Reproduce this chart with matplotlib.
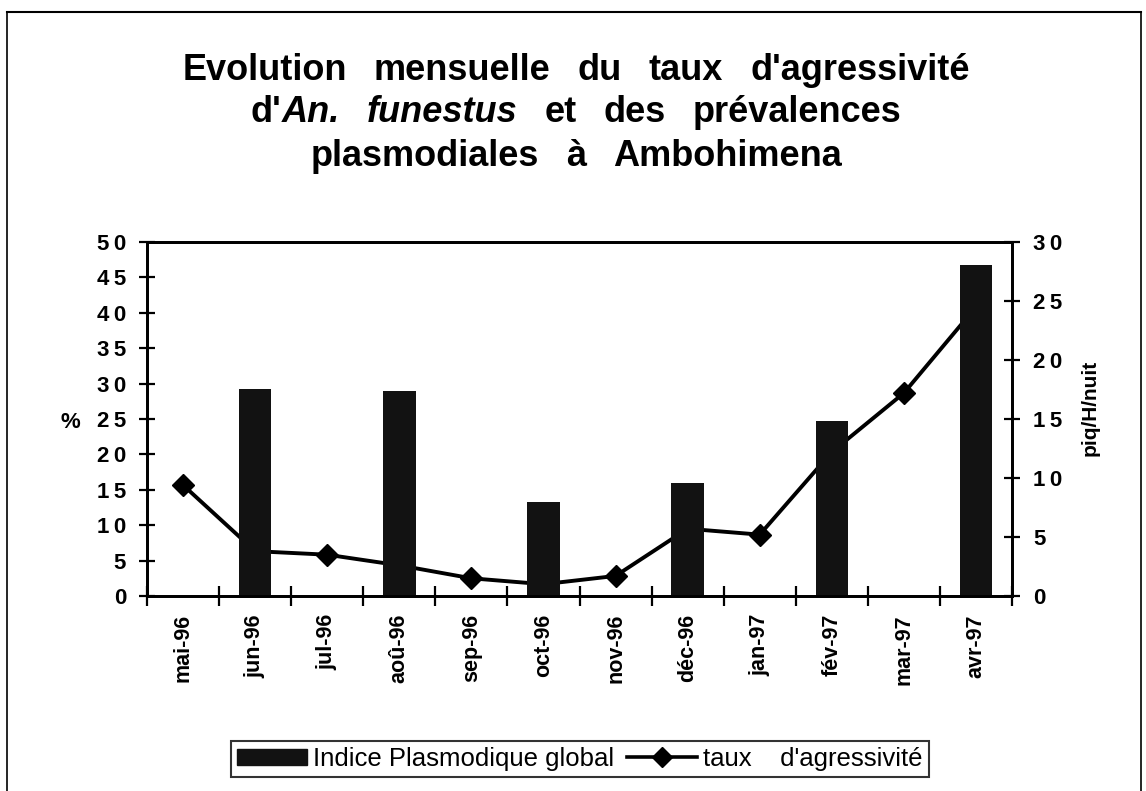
import matplotlib
matplotlib.use("Agg")
import matplotlib.pyplot as plt
import numpy as np
from matplotlib.lines import Line2D
from matplotlib.patches import Patch

months = ["mai-96", "jun-96", "jul-96", "aoû-96", "sep-96", "oct-96",
          "nov-96", "déc-96", "jan-97", "fév-97", "mar-97", "avr-97"]
indice_plasmodique = [0, 29.2, 0, 28.9, 0, 13.3, 0, 16.0, 0, 24.7, 0, 46.8]
taux_agressivite = [9.4, 3.8, 3.5, 2.6, 1.5, 1.0, 1.7, 5.7, 5.2, 12.2, 17.2, 24.5]

left_ticks = list(range(0, 51, 5))
right_ticks = list(range(0, 31, 5))

FONT = ["Liberation Sans", "DejaVu Sans"]
plt.rcParams['font.family'] = FONT

W, H = 1146, 791
fig = plt.figure(figsize=(W / 100, H / 100), dpi=100)
ax = fig.add_axes([147 / W, 1 - 596 / H, (1012 - 147) / W, (596 - 242) / H])
ax2 = ax.twinx()
# bars drawn above the line
ax.set_zorder(ax2.get_zorder() + 1)
ax.patch.set_visible(False)

x = np.arange(len(months))
bar_vals = np.array(indice_plasmodique, dtype=float)
mask = bar_vals > 0
ax.bar(x[mask], bar_vals[mask], width=0.45, color="#121212", zorder=2)
ax2.plot(x, taux_agressivite, color="black", lw=2.8, marker="D",
         markersize=11, markerfacecolor="black", zorder=3)

ax.set_xlim(-0.5, len(months) - 0.5)
ax.set_ylim(0, 50)
ax2.set_ylim(0, 30)

def spaced(v):
    return "\u2009".join(str(v))

ax.set_yticks(left_ticks)
ax.set_yticklabels([spaced(v) for v in left_ticks])
ax2.set_yticks(right_ticks)
ax2.set_yticklabels([spaced(v) for v in right_ticks])
ax.set_xticks(x)
ax.set_xticklabels(months, rotation=90, fontsize=15.5, fontweight="bold")
ax.set_xticks(np.arange(-0.5, len(months), 1.0), minor=True)
ax.tick_params(axis="x", which="major", length=0, pad=13)
ax.tick_params(axis="x", which="minor", length=14, width=1.6, direction="inout")
ax.tick_params(axis="y", length=12, width=1.6, direction="inout", labelsize=16, pad=9)
ax2.tick_params(axis="y", length=12, width=1.6, direction="inout", labelsize=16, pad=9)
for lab in ax.get_yticklabels() + ax2.get_yticklabels():
    lab.set_fontweight("bold")

for a in (ax, ax2):
    for s in a.spines.values():
        s.set_linewidth(2.0)
        s.set_color("black")

fig.text(70 / W, 1 - 423 / H, "%", fontsize=16, fontweight="bold",
         ha="center", va="center")
fig.text(1090 / W, 1 - 408 / H, "piq/H/nuit", fontsize=15, fontweight="bold",
         ha="center", va="center", rotation=90)

# Title built word by word (wide word spacing, italic species name)
fig.canvas.draw()
renderer = fig.canvas.get_renderer()
title_lines = [
    [("Evolution", "normal"), ("mensuelle", "normal"), ("du", "normal"),
     ("taux", "normal"), ("d'agressivité", "normal")],
    [("d'", "normal", 0), ("An.", "italic"), ("funestus", "italic"),
     ("et", "normal"), ("des", "normal"), ("prévalences", "normal")],
    [("plasmodiales", "normal"), ("à", "normal"), ("Ambohimena", "normal")],
]
baselines = [80, 122, 166]
gap_px = 27
for words, yb in zip(title_lines, baselines):
    texts, widths, gaps = [], [], []
    for i, item in enumerate(words):
        s, style = item[0], item[1]
        t = fig.text(0, 1 - yb / H, s, fontsize=26, fontweight="bold", style=style,
                     ha="left", va="baseline")
        bb = t.get_window_extent(renderer)
        texts.append(t)
        widths.append(bb.width)
        gaps.append(item[2] if len(item) > 2 else gap_px)
    total = sum(widths) + sum(gaps[:-1])
    xx = 576 - total / 2
    for t, w, g in zip(texts, widths, gaps):
        t.set_x(xx / W)
        xx += w + g

handles = [Patch(facecolor="#121212", edgecolor="#121212"),
           Line2D([0], [0], color="black", lw=2.6, marker="D", markersize=10)]
leg = fig.legend(handles, ["Indice Plasmodique global", "taux    d'agressivité"],
                 loc="center", bbox_to_anchor=(580 / W, 1 - 759 / H),
                 ncol=2, fontsize=18.5, frameon=True, fancybox=False,
                 handlelength=2.7, handleheight=0.6, handletextpad=0.25,
                 columnspacing=0.5, borderpad=0.25, borderaxespad=0)
leg.get_frame().set_edgecolor("black")
leg.get_frame().set_linewidth(1.5)

# outer frame lines
fig.add_artist(Line2D([7 / W, 7 / W], [0, 1 - 12 / H], color="black", lw=1.2,
                      transform=fig.transFigure))
fig.add_artist(Line2D([7 / W, 1141 / W], [1 - 12 / H, 1 - 12 / H], color="black",
                      lw=1.5, transform=fig.transFigure))
fig.add_artist(Line2D([1141 / W, 1141 / W], [0, 1 - 12 / H], color="black", lw=1.2,
                      transform=fig.transFigure))

fig.savefig("out.png", dpi=100)
